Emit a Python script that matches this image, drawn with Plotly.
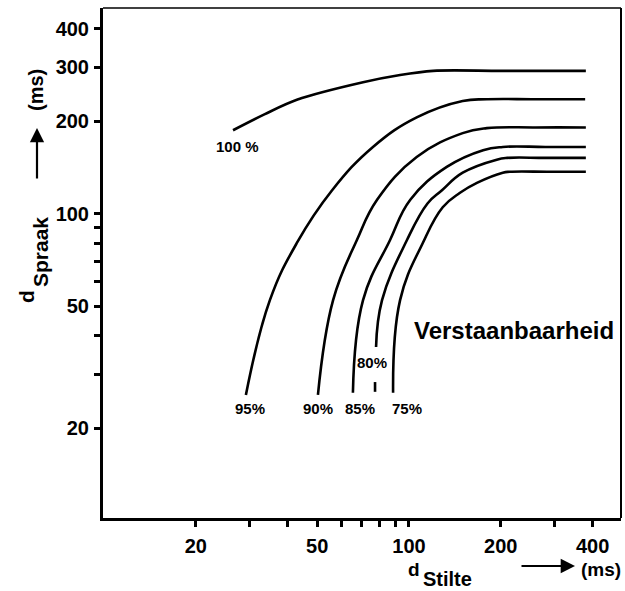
import math
import plotly.graph_objects as go

# ---- data ----
x_tickvals = [20, 30, 40, 50, 60, 70, 80, 90, 100, 200, 300, 400]
x_ticktext = ["20", "", "", "50", "", "", "", "", "100", "200", "", "400"]
y_tickvals = [20, 30, 40, 50, 60, 70, 80, 90, 100, 200, 300, 400]
y_ticktext = ["20", "", "", "50", "", "", "", "", "100", "200", "300", "400"]

c100_x = [26.5, 33.7, 42.9, 70.7, 93.5, 120, 200, 380]
c100_y = [187, 211, 235, 268, 283, 292, 292, 292]

c95_x = [29.2, 35.0, 42.9, 55.9, 76.2, 106, 150, 180, 260, 378]
c95_y = [25.7, 52.3, 80.3, 119, 165, 206, 233, 236, 236, 236]

c90_x = [50.3, 56.4, 67.5, 78.6, 106, 150, 180, 260, 380]
c90_y = [25.7, 52.3, 82.1, 111, 153, 183, 190, 191, 191]

c85_x = [65.5, 70.7, 86.7, 101, 133, 175, 203, 280, 380]
c85_y = [26.1, 52.3, 82.1, 111, 142, 161, 165, 165, 165]

c80_x = [78.0, 81.6, 98.5, 115, 128, 150, 194, 210, 280, 380]
c80_y = [36.8, 52.3, 82.1, 108, 119, 136, 150, 152, 152, 152]
c80_tail_x = [77.4, 77.4]
c80_tail_y = [26.3, 28.3]

c75_x = [88.7, 93.5, 111, 129, 147, 167, 203, 214, 290, 380]
c75_y = [26.1, 52.3, 80.3, 105, 117, 126, 136, 137, 137, 137]

curve_labels = ["100 %", "95%", "90%", "85%", "80%", "75%"]

# ---- figure ----
W, H = 625, 591
L, R, T, B = 103, 4, 8, 73
PW, PH = W - L - R, H - T - B


def P(px, py):
    return (px - L) / PW, (H - B - py) / PH


line_style = dict(color="black", width=2.6)
fig = go.Figure()
for xs, ys, sm in [(c100_x, c100_y, 0.9), (c95_x, c95_y, 1.2), (c90_x, c90_y, 1.2),
                   (c85_x, c85_y, 1.2), (c80_x, c80_y, 1.2), (c75_x, c75_y, 1.2)]:
    fig.add_trace(go.Scatter(x=xs, y=ys, mode="lines",
                             line=dict(**line_style, shape="spline", smoothing=sm),
                             hoverinfo="skip", showlegend=False))
fig.add_trace(go.Scatter(x=c80_tail_x, y=c80_tail_y, mode="lines", line=line_style,
                         hoverinfo="skip", showlegend=False))

bold = dict(family="Liberation Sans, Arial, sans-serif", color="black", weight="bold")

fig.update_xaxes(type="log", range=[0.997, 2.695], tickvals=x_tickvals, ticktext=x_ticktext,
                 showline=True, linecolor="black", linewidth=3, mirror=False,
                 ticks="outside", ticklen=6, tickwidth=3, tickcolor="black",
                 showgrid=False, zeroline=False, tickfont=dict(**bold, size=20),
                 ticklabelstandoff=2)
fig.update_yaxes(type="log", range=[1.009, 2.670], tickvals=y_tickvals, ticktext=y_ticktext,
                 showline=True, linecolor="black", linewidth=3, mirror=False,
                 ticks="outside", ticklen=6, tickwidth=3, tickcolor="black",
                 showgrid=False, zeroline=False, tickfont=dict(**bold, size=20),
                 ticklabelstandoff=1)

# thin box on top/right
fig.add_shape(type="line", xref="paper", yref="paper", x0=0, x1=1, y0=1, y1=1,
              line=dict(color="black", width=1.6))
fig.add_shape(type="line", xref="paper", yref="paper", x0=1, x1=1, y0=0, y1=1,
              line=dict(color="black", width=2))

ann = []


def text(px, py, s, size, angle=0):
    x, y = P(px, py)
    ann.append(dict(x=x, y=y, xref="paper", yref="paper", text=s, showarrow=False,
                    textangle=angle, xanchor="center", yanchor="middle",
                    font=dict(**bold, size=size)))


def arrow(hx, hy, tx, ty):
    x, y = P(hx, hy)
    ann.append(dict(x=x, y=y, xref="paper", yref="paper", ax=tx - hx, ay=ty - hy,
                    axref="pixel", ayref="pixel", text="", showarrow=True,
                    arrowhead=2, arrowsize=1.3, arrowwidth=2.2, arrowcolor="black"))


label_pos = [(237, 146), (250, 408), (318, 408), (360, 408), (372, 362), (407, 408)]
for (px, py), s in zip(label_pos, curve_labels):
    text(px, py, s, 15)

text(514, 330, "Verstaanbaarheid", 24)

# x title
text(414, 569, "d", 19)
text(447, 579, "Stilte", 20)
arrow(575, 566, 520, 566)
text(601, 569, "(ms)", 19)

# y title
text(26, 297, "d", 21, -90)
text(41, 252, "Spraak", 21, -90)
arrow(37, 128, 37, 180)
text(36, 90, "(ms)", 20, -90)

fig.update_layout(width=W, height=H, margin=dict(l=L, r=R, t=T, b=B),
                  paper_bgcolor="white", plot_bgcolor="white", annotations=ann,
                  showlegend=False)

fig.write_html("out.html")
